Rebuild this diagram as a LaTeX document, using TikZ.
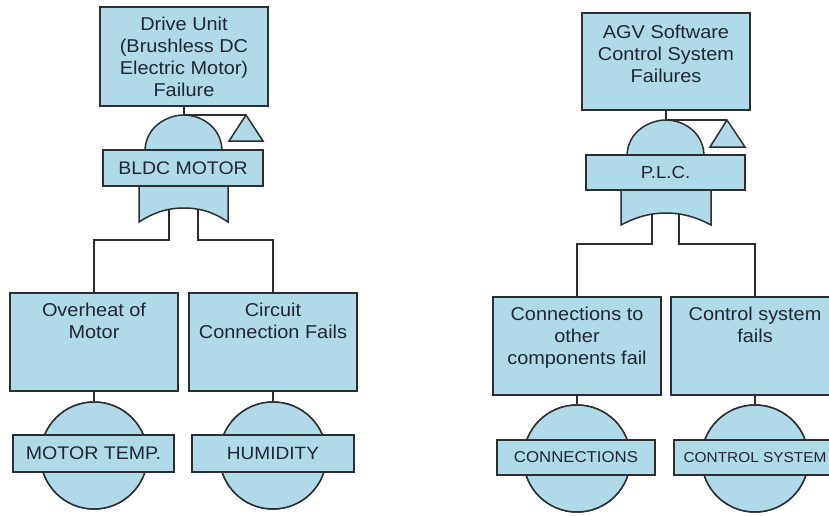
\documentclass[tikz,border=0pt]{standalone}
\usepackage{fontspec}
\setmainfont{Liberation Sans}[FakeStretch=1.07]
\definecolor{ftfill}{RGB}{176,218,231}
\definecolor{ftline}{RGB}{45,45,50}
\definecolor{fttext}{RGB}{35,38,50}
\tikzset{
  event/.style={rectangle, draw=ftline, fill=ftfill, line width=1.5pt, inner sep=0pt, minimum width=168pt},
  tag/.style={rectangle, draw=ftline, fill=ftfill, line width=1.5pt, inner sep=0pt, text=fttext},
  gatepart/.style={draw=ftline, fill=ftfill, line width=1.5pt, line join=miter},
  wire/.style={draw=ftline, line width=1.5pt},
  boxtext/.style={anchor=north, align=center, inner sep=0pt, text=fttext, font=\fontsize{18.6}{22}\selectfont},
  basic/.style={circle, draw=ftline, fill=ftfill, line width=1.5pt, minimum size=107pt, inner sep=0pt},
}
\begin{document}
\begin{tikzpicture}[x=1pt, y=-1pt]
\useasboundingbox (0,0) rectangle (829,516);
\fill[white] (0,0) rectangle (829,516);
\clip (0,0) rectangle (829,516);

% ---------------- left tree: drive unit ----------------
\node[event, minimum height=99pt] (top1) at (184,56.5) {};
\node[boxtext] (top1t) at (184,17) {Drive Unit\\(Brushless DC\\Electric Motor)\\Failure};

\node[event, minimum height=98pt] (b1) at (94,342) {};
\node[boxtext] (b1t) at (94,303) {Overheat of\\Motor};
\node[event, minimum height=98pt] (b2) at (273,342) {};
\node[boxtext] (b2t) at (273,303) {Circuit\\Connection Fails};

\coordinate (g1apex) at (184,115);
\coordinate (tr1) at (246,115);
\coordinate (g1l) at (169,209);
\coordinate (g1r) at (198,209);

% wires of the gate
\draw[wire] (top1.south) -- (g1apex) -- (tr1);
\draw[wire] (g1l) -- (169,240) -| (b1.north);
\draw[wire] (g1r) -- (198,240) -| (b2.north);

% gate body
\path[gatepart] (145,150) .. controls (146,126) and (168,115) .. (g1apex)
                .. controls (200,115) and (221,126) .. (222,150) -- cycle;
\path[gatepart] (139,186) -- (139,222) .. controls (156,211) and (170,208) .. (184,208)
                .. controls (198,208) and (212,211) .. (228,222) -- (228,186) -- cycle;
\node[tag, minimum width=160pt, minimum height=36pt, font=\fontsize{18.2}{20}\selectfont] (g1) at (183,168) {BLDC MOTOR};
\path[gatepart] (tr1) -- (263,141) -- (229,141) -- cycle;

% basic events
\node[basic] (c1) at (94,455.5) {};
\node[basic] (c2) at (273,455.5) {};
\draw[wire] (b1.south) -- (c1.north);
\draw[wire] (b2.south) -- (c2.north);
\node[basic] at (c1) {};
\node[basic] at (c2) {};
\node[tag, minimum width=161pt, minimum height=37pt, font=\fontsize{18.3}{20}\selectfont] (l1) at (93.5,453.5) {MOTOR TEMP.};
\node[tag, minimum width=162pt, minimum height=37pt, font=\fontsize{17.8}{20}\selectfont] (l2) at (273,453.5) {HUMIDITY};

% ---------------- right tree: software control ----------------
\node[event, minimum height=97pt] (top2) at (666,61.5) {};
\node[boxtext] (top2t) at (666,25) {AGV Software\\Control System\\Failures};

\node[event, minimum height=98pt] (b3) at (577,346) {};
\node[boxtext] (b3t) at (577,307) {Connections to\\other\\components fail};
\node[event, minimum height=98pt] (b4) at (755,346) {};
\node[boxtext] (b4t) at (755,307) {Control system\\fails};

\coordinate (g2apex) at (666,120);
\coordinate (tr2) at (727,120);
\coordinate (g2l) at (652,214);
\coordinate (g2r) at (679,214);

\draw[wire] (top2.south) -- (g2apex) -- (tr2);
\draw[wire] (g2l) -- (652,244) -| (b3.north);
\draw[wire] (g2r) -- (679,244) -| (b4.north);

\path[gatepart] (627,155) .. controls (628,131) and (650,120) .. (g2apex)
                .. controls (682,120) and (703,131) .. (704,155) -- cycle;
\path[gatepart] (621,190) -- (621,225) .. controls (638,216) and (652,213) .. (666,213)
                .. controls (680,213) and (694,216) .. (711,225) -- (711,190) -- cycle;
\node[tag, minimum width=159pt, minimum height=35pt, font=\fontsize{17.4}{20}\selectfont] (g2) at (665.5,172.5) {P.L.C.};
\path[gatepart] (tr2) -- (745,147) -- (710,147) -- cycle;

\node[basic] (c3) at (577,458.5) {};
\node[basic] (c4) at (755,458.5) {};
\draw[wire] (b3.south) -- (c3.north);
\draw[wire] (b4.south) -- (c4.north);
\node[basic] at (c3) {};
\node[basic] at (c4) {};
\node[tag, minimum width=158pt, minimum height=35pt, font=\fontsize{15.7}{18}\selectfont] (l3) at (576,457.5) {CONNECTIONS};
\node[tag, minimum width=162pt, minimum height=35pt, font=\fontsize{14.4}{18}\selectfont] (l4) at (755,457.5) {CONTROL SYSTEM};
\end{tikzpicture}
\end{document}
